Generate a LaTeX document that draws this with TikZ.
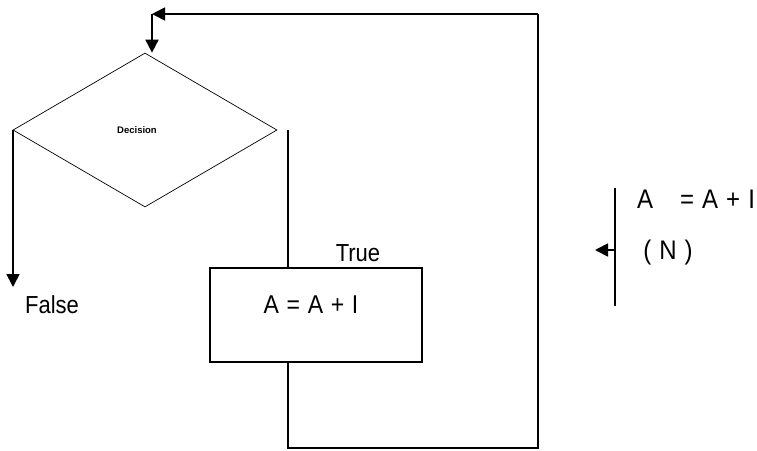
\documentclass[tikz,border=0pt]{standalone}
\usepackage{fontspec}
\setmainfont{Liberation Sans}
\usetikzlibrary{shapes.geometric,arrows.meta}
\begin{document}
\begin{tikzpicture}[x=1pt,y=-1pt,
  thick line/.style={line width=1.7pt},
  arr/.style={thick line,-{Triangle[length=13pt,width=13pt]}},
  lbl/.style={font=\fontsize{22}{24}\selectfont,inner sep=0pt,yscale=1.12},
  diam/.style={draw,line width=0.7pt,diamond,aspect=1.714,minimum width=264pt,minimum height=154pt,inner sep=0pt},
  boxst/.style={draw,thick line,minimum width=212pt,minimum height=94pt,inner sep=0pt}]
\useasboundingbox (0,0) rectangle (757,450);
% decision diamond
\node[diam] (dec) at (145,130) {};
\node[font=\fontsize{9.5}{11}\selectfont\bfseries,inner sep=0pt] (dect) at (137,130) {Decision};
% process box
\node[boxst] (box) at (316,315) {};
\node[lbl,font=\fontsize{23}{25}\selectfont] (boxt) at (311,305) {A\,\,=\,\,A\,\,+\,\,I};
\node[lbl] (true) at (358,253) {True};
\node[lbl] (false) at (52,305) {False};
% coordinates of loop
\coordinate (r1) at (288,130);
\coordinate (b1) at (288,448);
\coordinate (b2) at (538,448);
\coordinate (t1) at (538,14);
\coordinate (t0) at (152,14);
\coordinate (f1) at (13,130);
\coordinate (f2) at (13,287);
% connectors
\draw[thick line] (r1) -- (r1 |- box.north);
\draw[thick line] (b1 |- box.south) -- (b1) -- (b2) -- (t1);
\draw[arr] (t1) -- (t0);
\draw[arr] (t0) -- (t0 |- dec.north);
\draw[arr] (f1) -- (f2);
% right legend
\coordinate (v1) at (615,188);
\coordinate (v2) at (615,306);
\coordinate (ah) at (615,250);
\coordinate (ae) at (595,250);
\draw[thick line] (v1) -- (v2);
\draw[arr] (ah) -- (ae);
\node[lbl,font=\fontsize{24}{26}\selectfont] (ra) at (645,199) {A};
\node[lbl,font=\fontsize{24}{26}\selectfont,anchor=west] (rb) at (680,199) {=\,\,A\,\,+\,\,I};
\node[lbl,font=\fontsize{24}{26}\selectfont] (rn) at (668,253) {(\,\,N\,\,)};
\end{tikzpicture}
\end{document}
